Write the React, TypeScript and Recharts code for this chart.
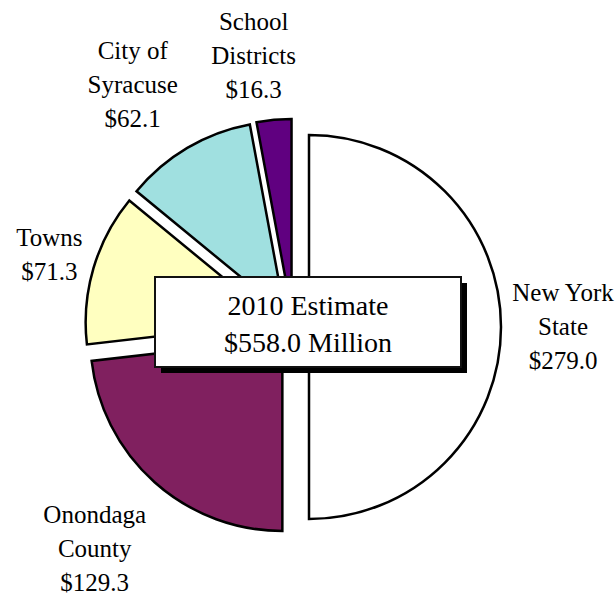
import React from 'react';
import { PieChart, Pie, Cell } from 'recharts';

const CATEGORIES = ['New York State', 'Onondaga County', 'Towns', 'City of Syracuse', 'School Districts'];
const LABEL_LINES = [['New York', 'State'], ['Onondaga', 'County'], ['Towns'], ['City of', 'Syracuse'], ['School', 'Districts']];
const VALUES = [279.0, 129.3, 71.3, 62.1, 16.3];
const COLORS = ['#FFFFFF', '#80205F', '#FFFFC0', '#A0E0E0', '#600080'];
const TOTAL_LINES = ['2010 Estimate', '$558.0 Million'];

const W = 616;
const H = 594;
const CX = 293;
const CY = 327;
const R = 192;
const EXPLODE = 16;
const LABEL_DIST = [270, 298, 254, 290, 274];
const LABEL_SHIFT = [0, 0, 0, 3, 3];
const FONT = 'Liberation Serif, DejaVu Serif, serif';
const RAD = Math.PI / 180;

const data = CATEGORIES.map((name, i) => ({ name, value: VALUES[i] }));
const total = VALUES.reduce((a, b) => a + b, 0);
const midAngles: number[] = [];
{
  let cum = 0;
  VALUES.forEach((v) => {
    midAngles.push(90 - (360 * (cum + v / 2)) / total);
    cum += v;
  });
}

const makeLabel = (i: number) => (props: any) => {
  const idx = props.index !== undefined ? props.index : CATEGORIES.indexOf(props.name);
  if (idx !== i) return null;
  const a = (midAngles[i] + LABEL_SHIFT[i]) * RAD;
  const lx = CX + LABEL_DIST[i] * Math.cos(a);
  const ly = CY - LABEL_DIST[i] * Math.sin(a);
  const lines = [...LABEL_LINES[i], '$' + VALUES[i].toFixed(1)];
  const lh = 34;
  const start = ly - ((lines.length - 1) * lh) / 2 + 8;
  return (
    <text
      x={lx}
      y={start}
      textAnchor="middle"
      fill="#000"
      style={{ fontFamily: FONT, fontSize: 25 }}
    >
      {lines.map((t, k) => (
        <tspan key={k} x={lx} y={start + k * lh}>
          {t}
        </tspan>
      ))}
    </text>
  );
};

export default function App() {
  return (
    <div style={{ position: 'absolute', left: 0, top: 0, width: W, height: H, background: '#fff', fontFamily: FONT }}>
      <PieChart width={W} height={H} margin={{ top: 0, right: 0, bottom: 0, left: 0 }} style={{ fontFamily: FONT }}>
        {VALUES.map((_, i) => {
          const m = midAngles[i] * RAD;
          return (
            <Pie
              key={i}
              name={CATEGORIES[i]}
              data={data}
              dataKey="value"
              nameKey="name"
              cx={CX + EXPLODE * Math.cos(m)}
              cy={CY - EXPLODE * Math.sin(m)}
              innerRadius={0}
              outerRadius={R}
              startAngle={90}
              endAngle={-270}
              isAnimationActive={false}
              labelLine={false}
              label={makeLabel(i)}
            >
              {data.map((d, j) => (
                <Cell
                  key={j}
                  fill={j === i ? COLORS[j] : 'none'}
                  stroke={j === i ? '#000' : 'none'}
                  strokeWidth={2.5}
                  strokeLinejoin="miter"
                />
              ))}
            </Pie>
          );
        })}
      </PieChart>
      <svg
        width={W}
        height={H}
        style={{ position: 'absolute', left: 0, top: 0, pointerEvents: 'none' }}
      >
        <rect x={161} y={283} width={306} height={90} fill="#000" />
        <rect x={155} y={277} width={306} height={90} fill="#fff" stroke="#111" strokeWidth={2} />
        {TOTAL_LINES.map((t, k) => (
          <text
            key={k}
            x={308}
            y={315 + k * 37}
            textAnchor="middle"
            fill="#000"
            style={{ fontFamily: FONT, fontSize: 28 }}
          >
            {t}
          </text>
        ))}
      </svg>
    </div>
  );
}
